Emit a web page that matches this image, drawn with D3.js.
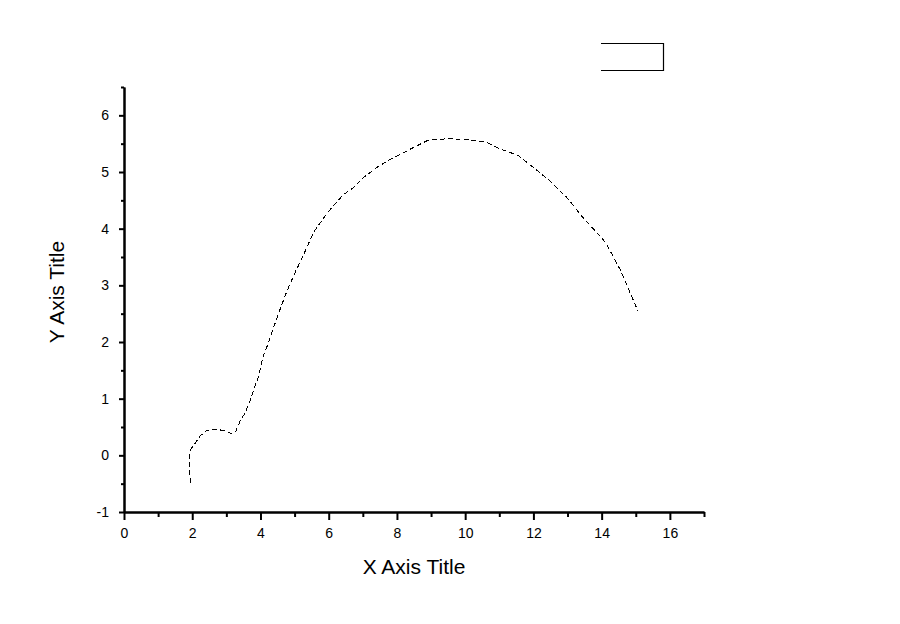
<!DOCTYPE html>
<html>
<head>
<meta charset="utf-8">
<script src="https://cdn.jsdelivr.net/npm/d3@7"></script>
<style>
  body { margin: 0; background: #fff; }
  svg { display: block; font-family: "Liberation Sans", Arial, sans-serif; }
</style>
</head>
<body>
<div id="chart"></div>
<script>
// Curve values
const xValues = [1.94, 1.91, 1.96, 2.08, 2.23, 2.42, 2.67, 2.91, 3.16, 3.28,
  3.40, 3.55, 3.69, 3.79, 3.94, 4.08, 4.23, 4.38, 4.57, 4.77,
  5.01, 5.28, 5.55, 5.89, 6.13, 6.43, 6.72, 7.01, 7.41, 7.80,
  8.09, 8.48, 8.91, 9.56, 10.24, 10.63, 11.02, 11.56, 12.00, 12.49,
  12.98, 13.46, 14.00, 14.15, 14.54, 15.07];
const yValues = [-0.48, -0.02, 0.11, 0.21, 0.34, 0.44, 0.46, 0.44, 0.38, 0.43,
  0.60, 0.75, 0.95, 1.13, 1.39, 1.75, 1.98, 2.25, 2.57, 2.89,
  3.22, 3.56, 3.93, 4.22, 4.40, 4.60, 4.72, 4.90, 5.08, 5.22,
  5.31, 5.43, 5.56, 5.59, 5.56, 5.52, 5.41, 5.29, 5.08, 4.84,
  4.55, 4.19, 3.84, 3.72, 3.28, 2.54];

const xTicks = [0, 2, 4, 6, 8, 10, 12, 14, 16];
const xMinorTicks = [1, 3, 5, 7, 9, 11, 13, 15, 17];
const yTicks = [-1, 0, 1, 2, 3, 4, 5, 6];
const yMinorTicks = [-0.5, 0.5, 1.5, 2.5, 3.5, 4.5, 5.5, 6.5];

const data = xValues.map((x, i) => ({ x: x, y: yValues[i] }));

const svg = d3.select("#chart")
  .append("svg")
  .attr("width", 900)
  .attr("height", 624);

const x = d3.scaleLinear()
  .domain([0, 17])
  .range([124, 704]);

const y = d3.scaleLinear()
  .domain([-1, 6.5])
  .range([512, 87]);

// X axis
svg.append("g")
  .attr("transform", "translate(0,512)")
  .call(d3.axisBottom(x).tickValues(xTicks).tickSize(8).tickSizeOuter(0)
    .tickPadding(8).tickFormat(d => String(d)));

svg.append("g")
  .attr("transform", "translate(0,512)")
  .call(d3.axisBottom(x).tickValues(xMinorTicks).tickSize(5).tickSizeOuter(0).tickFormat(""));

// Y axis
svg.append("g")
  .attr("transform", "translate(124,0)")
  .call(d3.axisLeft(y).tickValues(yTicks).tickSize(5).tickSizeOuter(0)
    .tickPadding(10).tickFormat(d => String(d)));

svg.append("g")
  .attr("transform", "translate(124,0)")
  .call(d3.axisLeft(y).tickValues(yMinorTicks).tickSize(3).tickSizeOuter(0).tickFormat(""));

svg.selectAll(".domain, .tick line")
  .attr("stroke", "#000")
  .attr("stroke-width", 2);

svg.selectAll(".tick text")
  .attr("fill", "#000")
  .style("font-size", "14px")
  .style("font-family", "Liberation Sans, Arial, sans-serif");

// Axis titles
svg.append("text")
  .attr("x", 414)
  .attr("y", 574)
  .attr("text-anchor", "middle")
  .attr("font-size", "21px")
  .text("X Axis Title");

svg.append("text")
  .attr("transform", "translate(64,292) rotate(-90)")
  .attr("text-anchor", "middle")
  .attr("font-size", "21px")
  .text("Y Axis Title");

// The curve
const line = d3.line()
  .x(d => x(d.x))
  .y(d => y(d.y));

svg.append("path")
  .datum(data)
  .attr("fill", "none")
  .attr("stroke", "#000")
  .attr("stroke-width", 1)
  .attr("stroke-dasharray", "5,3")
  .attr("shape-rendering", "crispEdges")
  .attr("d", line);

// Legend frame (left side open)
svg.append("path")
  .attr("fill", "none")
  .attr("stroke", "#000")
  .attr("stroke-width", 1.2)
  .attr("d", "M601,43.5H663.5V70.5H601");
</script>
</body>
</html>
